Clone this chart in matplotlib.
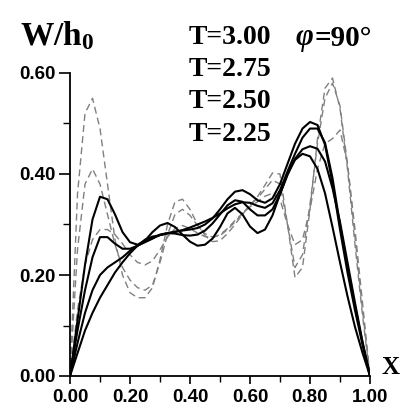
import matplotlib
matplotlib.use('Agg')
import matplotlib.pyplot as plt
from matplotlib.ticker import MultipleLocator

# x positions read every 0.025 along the axis
x = [i * 0.025 for i in range(41)]

# solid curves (T=3.00 ... T=2.25)
w_s1 = [0, 0.11, 0.22, 0.31, 0.355, 0.35, 0.32, 0.285, 0.265, 0.26,
        0.268, 0.285, 0.298, 0.303, 0.295, 0.28, 0.266, 0.258, 0.26, 0.272,
        0.295, 0.322, 0.333, 0.32, 0.296, 0.283, 0.29, 0.318, 0.36, 0.4,
        0.428, 0.44, 0.435, 0.41, 0.362, 0.295, 0.225, 0.158, 0.097, 0.046, 0]
w_s2 = [0, 0.09, 0.17, 0.235, 0.275, 0.275, 0.262, 0.252, 0.252, 0.258,
        0.265, 0.272, 0.28, 0.283, 0.282, 0.279, 0.278, 0.28, 0.288, 0.302,
        0.32, 0.338, 0.348, 0.345, 0.33, 0.318, 0.318, 0.33, 0.36, 0.398,
        0.43, 0.449, 0.455, 0.45, 0.425, 0.372, 0.305, 0.225, 0.145, 0.068, 0]
w_s3 = [0, 0.065, 0.125, 0.17, 0.2, 0.215, 0.225, 0.235, 0.248, 0.258,
        0.266, 0.273, 0.279, 0.283, 0.286, 0.288, 0.29, 0.293, 0.3, 0.312,
        0.33, 0.35, 0.365, 0.368, 0.36, 0.348, 0.343, 0.352, 0.38, 0.42,
        0.46, 0.49, 0.503, 0.497, 0.458, 0.382, 0.29, 0.205, 0.13, 0.062, 0]
w_s4 = [0, 0.045, 0.09, 0.125, 0.155, 0.18, 0.205, 0.225, 0.243, 0.258,
        0.27, 0.276, 0.279, 0.282, 0.285, 0.289, 0.294, 0.3, 0.306, 0.313,
        0.322, 0.332, 0.34, 0.344, 0.343, 0.337, 0.333, 0.342, 0.368, 0.405,
        0.44, 0.472, 0.49, 0.49, 0.462, 0.392, 0.3, 0.215, 0.138, 0.066, 0]

# dashed curves
w_d1 = [0, 0.36, 0.52, 0.55, 0.49, 0.38, 0.27, 0.2, 0.165, 0.155,
        0.155, 0.175, 0.23, 0.3, 0.345, 0.35, 0.33, 0.3, 0.278, 0.266,
        0.268, 0.282, 0.3, 0.32, 0.338, 0.355, 0.378, 0.402, 0.4, 0.3,
        0.195, 0.215, 0.33, 0.47, 0.57, 0.59, 0.53, 0.41, 0.26, 0.12, 0]
w_d2 = [0, 0.25, 0.38, 0.41, 0.38, 0.32, 0.26, 0.215, 0.19, 0.175,
        0.17, 0.18, 0.225, 0.28, 0.32, 0.33, 0.318, 0.298, 0.282, 0.275,
        0.278, 0.29, 0.305, 0.322, 0.338, 0.352, 0.37, 0.388, 0.38, 0.3,
        0.215, 0.24, 0.34, 0.46, 0.55, 0.58, 0.535, 0.42, 0.275, 0.13, 0]
w_d3 = [0, 0.13, 0.22, 0.27, 0.29, 0.29, 0.28, 0.262, 0.24, 0.225,
        0.22, 0.228, 0.25, 0.275, 0.292, 0.298, 0.292, 0.283, 0.276, 0.274,
        0.28, 0.292, 0.308, 0.322, 0.335, 0.345, 0.356, 0.362, 0.35, 0.3,
        0.26, 0.27, 0.33, 0.41, 0.46, 0.47, 0.487, 0.42, 0.29, 0.145, 0]

t_labels = ['T=3.00', 'T=2.75', 'T=2.50', 'T=2.25']

plt.rcParams['mathtext.fontset'] = 'custom'
plt.rcParams['mathtext.bf'] = 'Liberation Serif:bold'
plt.rcParams['mathtext.rm'] = 'Liberation Serif:bold'

W, H = 403, 412
fig = plt.figure(figsize=(W / 100, H / 100), dpi=100)
ax = fig.add_axes([70 / W, 36 / H, 300 / W, 303 / H])

for y in [w_d1, w_d2, w_d3]:
    ax.plot(x, y, color='#808080', lw=1.0, dashes=(5, 3))
for y in [w_s1, w_s2, w_s3, w_s4]:
    ax.plot(x, y, color='black', lw=1.5)

ax.set_xlim(0, 1)
ax.set_ylim(0, 0.6)
for s in ['top', 'right']:
    ax.spines[s].set_visible(False)
for s in ['left', 'bottom']:
    ax.spines[s].set_linewidth(1.3)
ax.xaxis.set_major_locator(MultipleLocator(0.2))
ax.xaxis.set_minor_locator(MultipleLocator(0.1))
ax.yaxis.set_major_locator(MultipleLocator(0.2))
ax.yaxis.set_minor_locator(MultipleLocator(0.1))
ax.tick_params(axis='x', which='major', direction='out', length=6, width=1.2, pad=3)
ax.tick_params(axis='x', which='minor', direction='out', length=4, width=1.0)
ax.tick_params(axis='y', which='major', direction='out', length=8, width=1.2, pad=2)
ax.tick_params(axis='y', which='minor', direction='out', length=5, width=1.0)
ax.set_xticklabels([f'{v:.2f}' for v in ax.get_xticks()])
ax.set_yticklabels([f'{v:.2f}' for v in ax.get_yticks()])
for lab in ax.get_xticklabels() + ax.get_yticklabels():
    lab.set_fontfamily('Liberation Sans')
    lab.set_fontweight('bold')
    lab.set_fontsize(13.5)

def px(xp, yp):
    return xp / W, 1 - yp / H

fig.text(*px(20, 36), r'$\mathbf{W/h_0}$', fontsize=24, va='center', ha='left')
for i, t in enumerate(t_labels):
    fig.text(*px(189, 38 + i * 32), t, fontsize=20, fontweight='bold',
             family='Liberation Serif', va='center', ha='left')
fig.text(*px(296, 38), 'φ', fontsize=22, fontweight='bold', fontstyle='italic',
         family='Liberation Serif', va='center', ha='left')
fig.text(*px(314, 38), '=90°', fontsize=21, fontweight='bold',
         family='Liberation Serif', va='center', ha='left')
fig.text(*px(381, 368), 'X', fontsize=18, fontweight='bold',
         family='Liberation Serif', va='center', ha='left')

fig.savefig('out.png', dpi=100)
